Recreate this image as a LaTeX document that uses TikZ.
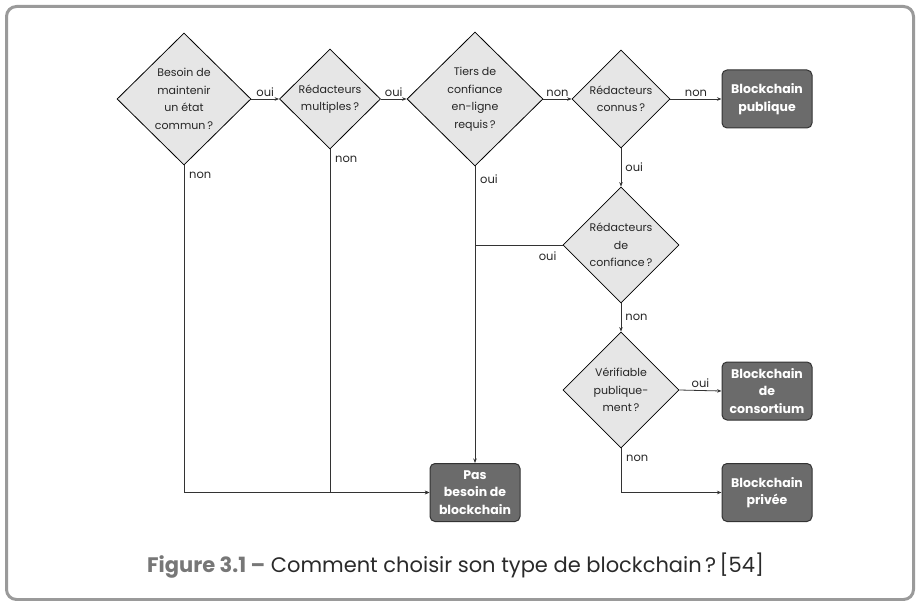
\documentclass[tikz,border=0pt]{standalone}
\usepackage{fontspec}
\setmainfont{Poppins}
\usetikzlibrary{shapes.geometric,arrows.meta}
\definecolor{dfill}{HTML}{E6E6E6}
\definecolor{bfill}{HTML}{6B6B6B}
\definecolor{bdraw}{HTML}{333333}
\definecolor{frame}{HTML}{9A9A9A}
\definecolor{capfig}{HTML}{777777}
\definecolor{captxt}{HTML}{2A2A2A}
\definecolor{conn}{HTML}{333333}
\begin{document}
\begin{tikzpicture}[x=1pt,y=-1pt,
  dia/.style={shape=diamond, draw=black, line width=0.8pt, fill=dfill, inner sep=-2pt, align=center,
    font=\fontsize{11}{17.5}\selectfont, text=black!85},
  outbox/.style={rounded corners=5pt, draw=bdraw, line width=1pt, fill=bfill, text=white, align=center,
    minimum width=90, minimum height=58, inner sep=0pt, font=\fontsize{12.5}{17.5}\selectfont\bfseries},
  arr/.style={draw=conn, line width=0.8pt, -{Stealth[length=4.5pt,width=3.5pt]}},
  plain/.style={draw=conn, line width=0.8pt},
  lbl/.style={font=\fontsize{11.5}{14}\selectfont, text=black!85, inner sep=1pt}]
\useasboundingbox (0,0) rectangle (917,601);
\draw[draw=frame, line width=3pt, rounded corners=10pt] (6.5,6.5) rectangle (913.5,599.5);

\node[dia, minimum width=134, minimum height=132] (d1) at (184,99) {Besoin de\\maintenir\\un état\\commun\,?};
\node[dia, minimum width=101, minimum height=100] (d2) at (330,99) {Rédacteurs\\multiples\,?};
\node[dia, minimum width=136, minimum height=134] (d3) at (475,99) {Tiers de\\confiance\\en-ligne\\requis\,?};
\node[dia, minimum width=98, minimum height=98] (d4) at (621,99) {Rédacteurs\\connus\,?};
\node[dia, minimum width=116, minimum height=116] (d5) at (621,245) {Rédacteurs\\de\\confiance\,?};
\node[dia, minimum width=116, minimum height=116] (d6) at (621,390) {Vérifiable\\publique-\\ment\,?};

\node[outbox] (b1) at (767,99) {Blockchain\\publique};
\node[outbox] (b2) at (767,391) {Blockchain\\de\\consortium};
\node[outbox] (b3) at (767,492.5) {Blockchain\\privée};
\node[outbox] (b0) at (475,492.5) {Pas\\besoin de\\blockchain};

\draw[arr] (d1.east) -- (d2.west) node[lbl, midway, above=1pt] (l1) {oui};
\draw[arr] (d2.east) -- (d3.west) node[lbl, midway, above=1pt] (l2) {oui};
\draw[arr] (d3.east) -- (d4.west) node[lbl, midway, above=1pt] (l3) {non};
\draw[arr] (d4.east) -- (b1.west) node[lbl, midway, above=1pt] (l4) {non};
\draw[arr] (d4.south) -- (d5.north) node[lbl, midway, right=3pt] (l5) {oui};
\draw[arr] (d5.south) -- (d6.north) node[lbl, midway, right=3pt] (l6) {non};
\draw[arr] (d6.east) -- (b2.west) node[lbl, midway, above=1pt] (l7) {oui};
\draw[arr] (d6.south) |- (b3.west);
\draw[arr] (d1.south) |- (b0.west);
\draw[arr] (d2.south) |- (b0.west);
\draw[arr] (d3.south) -- (b0.north);
\draw[plain] (d5.west) -- (d5.west -| d3.south);

\node[lbl, anchor=west] (l8) at ([shift={(4,10)}]d1.south) {non};
\node[lbl, anchor=west] (l9) at ([shift={(4,10)}]d2.south) {non};
\node[lbl, anchor=west] (l10) at ([shift={(4,13)}]d3.south) {oui};
\node[lbl, anchor=west] (l11) at ([shift={(4,10)}]d6.south) {non};
\node[lbl, anchor=east] (l12) at ([shift={(-5,11)}]d5.west) {oui};

\node[anchor=base west, inner sep=0pt, font=\fontsize{21}{24}\selectfont] (cap) at (147,572)
  {\textcolor{capfig}{\bfseries Figure 3.1 –} \textcolor{captxt}{Comment choisir son type de blockchain\,?\,[54]}};
\end{tikzpicture}
\end{document}
